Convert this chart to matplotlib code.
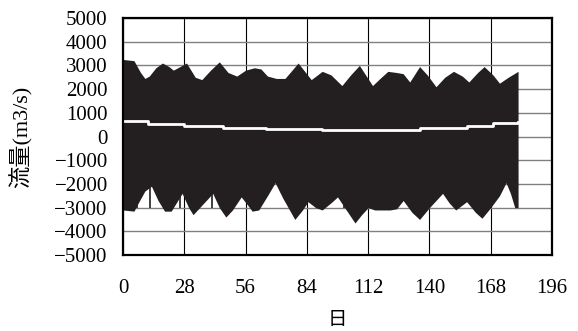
import matplotlib
matplotlib.use("Agg")
import matplotlib.pyplot as plt

# envelope of the tidal flow (upper / lower)
up_days = [0, 5, 8, 10, 12, 15, 18, 21, 23, 26, 29, 33, 36, 40, 44, 48, 52, 56,
           60, 63, 66, 70, 74, 80, 86, 91, 95, 100, 104, 108, 114, 118, 121, 125,
           128, 131, 135.5, 139, 143, 147, 151, 155, 158, 162, 165, 169, 172, 176, 180.5]
up_vals = [3250, 3200, 2700, 2450, 2550, 2900, 3100, 2950, 2800, 2950, 3100, 2500,
           2400, 2800, 3150, 2700, 2550, 2800, 2900, 2850, 2550, 2450, 2450, 3100,
           2400, 2750, 2600, 2150, 2600, 3000, 2150, 2500, 2750, 2700, 2650, 2300,
           2950, 2600, 2100, 2500, 2750, 2550, 2300, 2700, 2950, 2600, 2250, 2500, 2750]

lo_days = [0, 5, 7, 10, 13, 16, 19, 22, 25, 27, 30, 32, 35, 38, 41, 44, 47, 50,
           54, 57, 59, 62, 66, 69.5, 73, 78.5, 82, 84.5, 88, 91, 95, 98, 102, 106,
           109, 112, 115, 118, 122, 125, 128, 132, 135.5, 140, 146, 149, 152, 157,
           161, 164, 168, 172, 175, 177, 179, 180.5]
lo_vals = [-3100, -3150, -2800, -2300, -2100, -2700, -3150, -3150, -2700, -2400,
           -3000, -3300, -3000, -2700, -2400, -3000, -3400, -3100, -2550, -2900,
           -3150, -3100, -2500, -1950, -2600, -3500, -3100, -2750, -3000, -3100,
           -2800, -2550, -3100, -3650, -3300, -3000, -3100, -3100, -3100, -3050,
           -2700, -3200, -3500, -3000, -2400, -2800, -3100, -2750, -3200, -3450,
           -3000, -2500, -1950, -2400, -3000, -3000]

# isolated peaks of the ebb flow that stick out of the envelope
spike_days = [6.2, 12.3, 26, 40.5, 101, 118, 151.6]
spike_tops = [-1700, -1400, -2300, -1550, -1900, -2300, -1750]

# residual (mean) flow, stepwise
mean_days = [0, 11.5, 28, 45.5, 65.5, 91, 135.5, 157, 169, 180.5]
mean_vals = [660, 530, 460, 370, 315, 275, 345, 440, 555, 610]

xticks = [0, 28, 56, 84, 112, 140, 168, 196]
yticks = list(range(-5000, 5001, 1000))

plt.rcParams['font.family'] = ['Liberation Serif', 'Noto Sans CJK JP']

fig = plt.figure(figsize=(5.78, 3.31), dpi=100)
ax = fig.add_axes([0.2128, 0.2296, 0.7422, 0.716])

for x in xticks:
    ax.axvline(x, color='black', lw=0.8, zorder=1)
for y in yticks:
    ax.axhline(y, color='#808080', lw=1.0, zorder=1)

ink = '#231f20'
ax.fill_between(up_days, 0, up_vals, color=ink, lw=0, zorder=2)
ax.fill_between(lo_days, lo_vals, 0, color=ink, lw=0, zorder=2)
ax.vlines(spike_days, -3000, spike_tops, color=ink, lw=1.2, zorder=2)
ax.plot(mean_days, mean_vals, drawstyle='steps-post', color='white', lw=2.0, zorder=3)

ax.set_xlim(0, 196)
ax.set_ylim(-5000, 5000)
ax.set_xticks(xticks)
ax.set_yticks(yticks)
ax.set_xticklabels([str(v) for v in xticks])
ax.set_yticklabels([str(v).replace('-', '\u2212') for v in yticks])
ax.tick_params(length=0, labelsize=15)
ax.tick_params(axis='y', pad=11)
ax.tick_params(axis='x', pad=17)
for s in ax.spines.values():
    s.set_linewidth(1.6)
    s.set_zorder(4)

ax.set_ylabel('流量(m3/s)', fontsize=16)
ax.yaxis.set_label_coords(-0.21, 0.5)
ax.set_xlabel('日', fontsize=14)
ax.xaxis.set_label_coords(0.5, -0.24)

fig.savefig('out.png', dpi=100)
